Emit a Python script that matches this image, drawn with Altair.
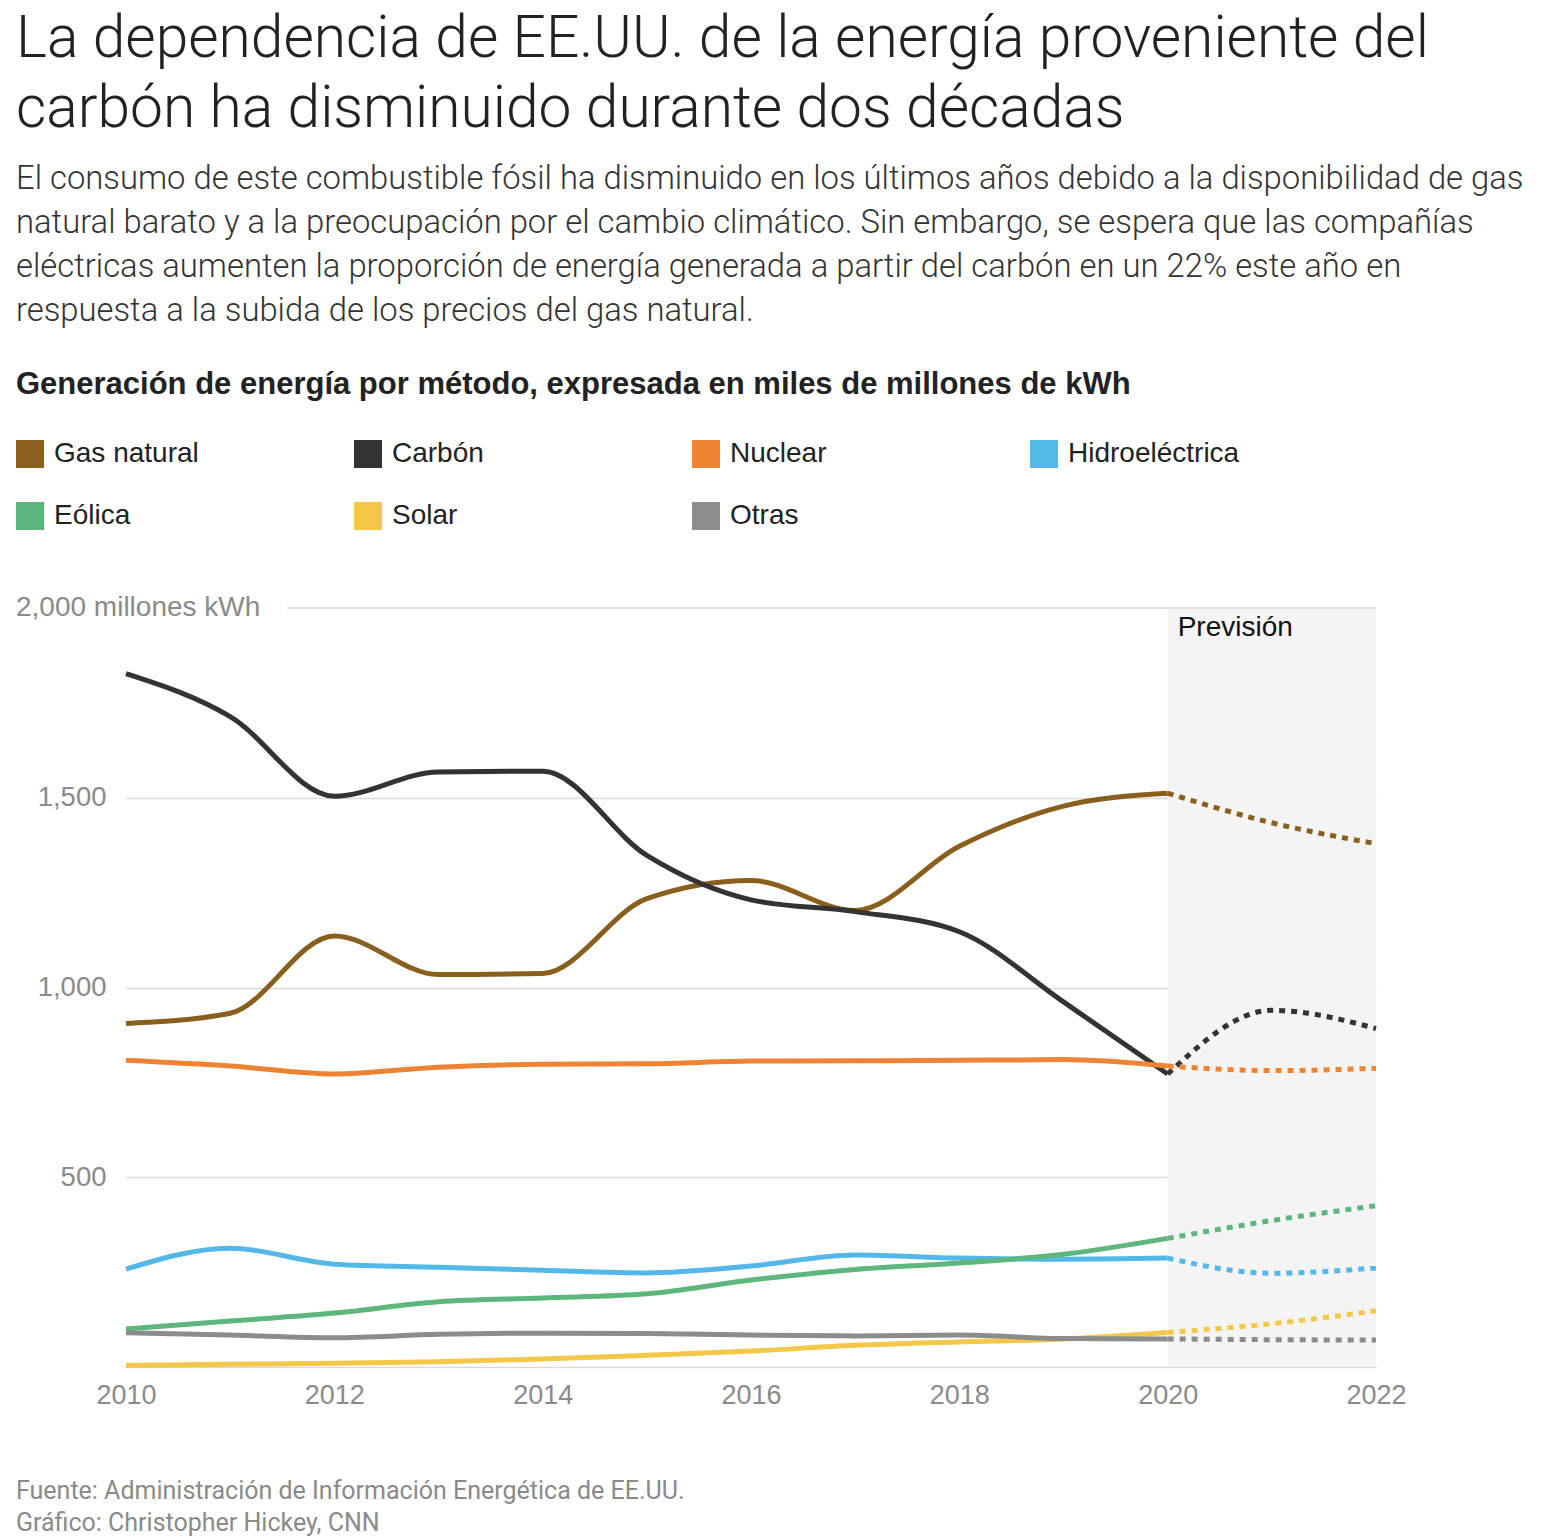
import altair as alt
import pandas as pd

# Annual US electricity generation by source, billion kWh (2021-2022 are forecasts)
years = list(range(2010, 2023))
gas_natural = [905, 932, 1136, 1034, 1037, 1234, 1282, 1203, 1372, 1478, 1512, 1434, 1379]
carbon = [1827, 1714, 1504, 1568, 1570, 1348, 1231, 1200, 1147, 962, 772, 940, 892]
nuclear = [808, 793, 772, 790, 798, 799, 806, 807, 808, 810, 793, 781, 787]
hidroelectrica = [258, 313, 271, 263, 255, 248, 266, 295, 287, 284, 287, 247, 261]
eolica = [100, 121, 142, 172, 182, 193, 229, 257, 274, 297, 339, 386, 425]
solar = [4, 7, 10, 14, 21, 31, 42, 57, 66, 74, 91, 114, 148]
otras = [90, 84, 77, 86, 89, 88, 84, 82, 84, 75, 74, 72, 71]

series_names = ["Gas natural", "Carbón", "Nuclear", "Hidroeléctrica", "Eólica", "Solar", "Otras"]
series_colors = ["#8a5f1e", "#333333", "#ee8334", "#53b8e8", "#5db67b", "#f5c748", "#8c8c8c"]
series_values = [gas_natural, carbon, nuclear, hidroelectrica, eolica, solar, otras]

last_actual_year = 2020
forecast_end = 2022

rows = []
for name, vals in zip(series_names, series_values):
    for yr, v in zip(years, vals):
        rows.append({"fuente": name, "anio": yr, "valor": v})
df = pd.DataFrame(rows)
actual = df[df["anio"] <= last_actual_year]
forecast = df[df["anio"] >= last_actual_year]

title_lines = [
    "La dependencia de EE.UU. de la energía proveniente del",
    "carbón ha disminuido durante dos décadas",
]
subtitle_lines = [
    "El consumo de este combustible fósil ha disminuido en los últimos años debido a la disponibilidad de gas",
    "natural barato y a la preocupación por el cambio climático. Sin embargo, se espera que las compañías",
    "eléctricas aumenten la proporción de energía generada a partir del carbón en un 22% este año en",
    "respuesta a la subida de los precios del gas natural.",
]
legend_title = "Generación de energía por método, expresada en miles de millones de kWh"
footer_lines = [
    "Fuente: Administración de Información Energética de EE.UU.",
    "Gráfico: Christopher Hickey, CNN",
]

LIGHT = "Roboto"
SANS = "Liberation Sans"
W, H = 1250, 759
GRID = "#d9d9d9"
AXIS_TXT = "#8a8a8a"

x_scale = alt.Scale(domain=[2010, 2022], nice=False, zero=False)
y_scale = alt.Scale(domain=[0, 2000], nice=False)

color = alt.Color(
    "fuente:N",
    scale=alt.Scale(domain=series_names, range=series_colors),
    legend=alt.Legend(
        title=legend_title,
        orient="none",
        legendX=-110,
        legendY=-238,
        direction="horizontal",
        columns=4,
        gridAlign="all",
        columnPadding=107,
        rowPadding=-8,
        titleFont=SANS,
        titleFontSize=31,
        titleFontWeight="bold",
        titleColor="#222222",
        titleLimit=1400,
        titlePadding=39,
        labelFont=SANS,
        labelFontSize=28,
        labelColor="#222222",
        labelLimit=400,
        labelOffset=10,
        symbolType="square",
        symbolSize=196,
        symbolStrokeWidth=14,
        symbolOpacity=1,
    ),
)

x_enc = alt.X(
    "anio:Q",
    scale=x_scale,
    axis=alt.Axis(
        values=list(range(2010, 2023, 2)),
        format="d",
        title=None,
        grid=False,
        domain=False,
        ticks=False,
        labelFlush=False,
        labelFont=SANS,
        labelFontSize=27,
        labelColor=AXIS_TXT,
        labelPadding=15,
    ),
)
y_enc = alt.Y(
    "valor:Q",
    scale=y_scale,
    axis=alt.Axis(
        values=[0, 500, 1000, 1500],
        labelExpr="datum.value == 0 ? '' : format(datum.value, ',')",
        title=None,
        grid=True,
        gridColor=GRID,
        gridWidth=1.5,
        domain=False,
        ticks=False,
        labelFont=SANS,
        labelFontSize=27.5,
        labelColor=AXIS_TXT,
        labelPadding=20,
    ),
)

shade_df = pd.DataFrame({"inicio": [last_actual_year], "fin": [forecast_end]})
shade = alt.Chart(shade_df).mark_rect(color="#f4f4f4").encode(
    x=alt.X("inicio:Q", scale=x_scale),
    x2="fin:Q",
    y=alt.datum(0, scale=y_scale),
    y2=alt.datum(2000),
)

top_rule = alt.Chart(shade_df).mark_rule(color=GRID, strokeWidth=1.5).encode(
    y=alt.datum(2000, scale=y_scale),
    x=alt.value(161),
    x2=alt.value(W),
)

top_label = alt.Chart(shade_df).mark_text(
    align="left", baseline="middle", font=SANS, fontSize=28, color=AXIS_TXT
).encode(
    x=alt.value(-110),
    y=alt.datum(2000, scale=y_scale),
    text=alt.value("2,000 millones kWh"),
)

forecast_label = alt.Chart(shade_df).mark_text(
    align="left", baseline="middle", font=SANS, fontSize=28, color="#111111", dx=10
).encode(
    x=alt.X("inicio:Q", scale=x_scale),
    y=alt.value(20),
    text=alt.value("Previsión"),
)

solid = alt.Chart(actual).mark_line(
    interpolate="monotone", strokeWidth=5, strokeCap="butt"
).encode(x=x_enc, y=y_enc, color=color)

dotted = alt.Chart(forecast).mark_line(
    interpolate="monotone", strokeWidth=5, strokeDash=[6, 6], strokeCap="butt"
).encode(x=alt.X("anio:Q", scale=x_scale), y=alt.Y("valor:Q", scale=y_scale), color=alt.Color("fuente:N"))

footer = alt.Chart(shade_df).mark_text(
    align="left", baseline="alphabetic", font=LIGHT, fontSize=25, color=AXIS_TXT, lineHeight=32
).encode(
    x=alt.value(-110),
    y=alt.value(H + 132),
    text=alt.value(footer_lines),
)

chart = alt.layer(shade, top_rule, top_label, forecast_label, solid, dotted, footer).properties(
    width=W,
    height=H,
    background="#ffffff",
    padding={"left": 16, "top": 9, "right": 20, "bottom": 4},
    title=alt.TitleParams(
        text=title_lines,
        subtitle=subtitle_lines,
        anchor="start",
        font=LIGHT,
        fontSize=58.7,
        fontWeight=300,
        color="#222222",
        lineHeight=70,
        subtitleFont=LIGHT,
        subtitleFontSize=32.8,
        subtitleFontWeight=300,
        subtitleColor="#333333",
        subtitleLineHeight=44,
        subtitlePadding=24,
        offset=41,
    ),
).configure_view(stroke=None)

chart.save("out.html", embed_options={"renderer": "svg", "actions": False})
